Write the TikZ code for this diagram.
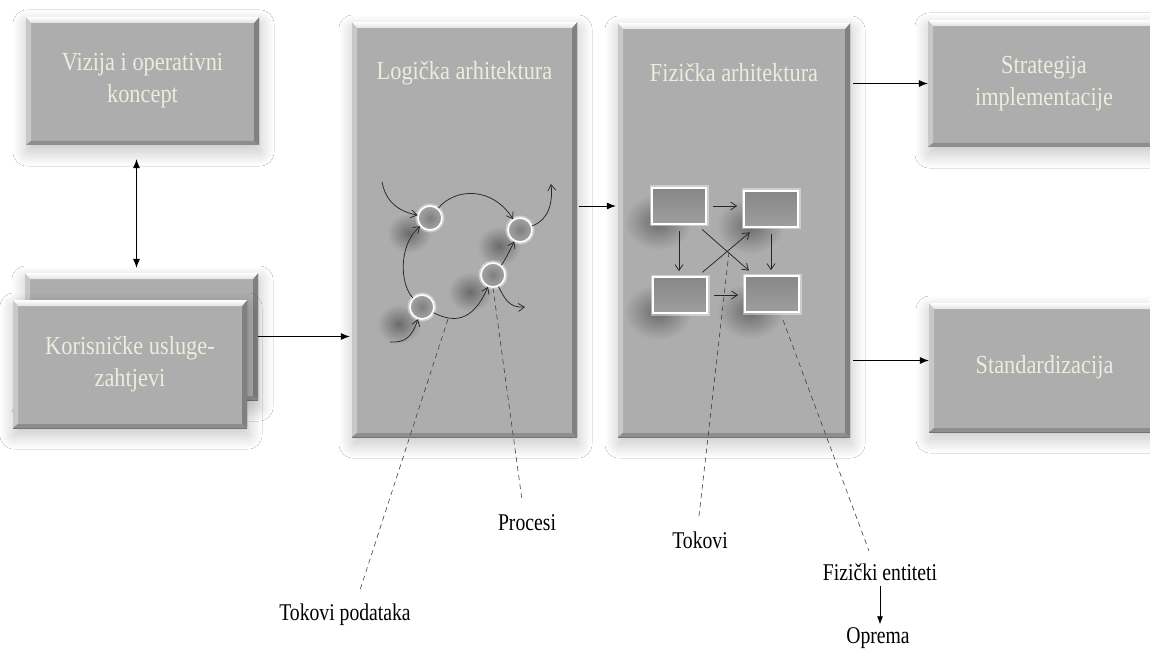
\documentclass[tikz,border=0pt]{standalone}
\usepackage{fontspec}
\setmainfont{Liberation Serif}
\newfontfamily\boxfont[FakeStretch=0.86]{Liberation Serif}
\newfontfamily\notefont[FakeStretch=0.82]{Liberation Serif}
\usetikzlibrary{arrows.meta,shadows.blur,calc}
\definecolor{boxgray}{HTML}{ADADAD}
\definecolor{boxtext}{HTML}{E9EEDD}
\definecolor{bevleft}{HTML}{C8C8C8}
\definecolor{bevright}{HTML}{808080}
\definecolor{bevbottom}{HTML}{8E8E8E}
\tikzset{
  bevel/.style={path picture={
    \coordinate (q1) at (path picture bounding box.north west);
    \coordinate (q2) at (path picture bounding box.north east);
    \coordinate (q3) at (path picture bounding box.south east);
    \coordinate (q4) at (path picture bounding box.south west);
    \fill[bevleft] (q1) -- ([xshift=5pt,yshift=-6pt]q1) -- ([xshift=5pt,yshift=4pt]q4) -- (q4) -- cycle;
    \fill[bevright] (q2) -- ([xshift=-5pt,yshift=-6pt]q2) -- ([xshift=-5pt,yshift=4pt]q3) -- (q3) -- cycle;
    \fill[bevbottom] (q4) -- ([xshift=5pt,yshift=4pt]q4) -- ([xshift=-5pt,yshift=4pt]q3) -- (q3) -- cycle;
    \shade[top color=white, bottom color=black!12] (q1) -- (q2) -- ([xshift=-5pt,yshift=-6pt]q2) -- ([xshift=5pt,yshift=-6pt]q1) -- cycle;
    \draw[black!55, line width=0.9pt] (q2) -- (q3) -- (q4);
  }},
  panel/.style={rectangle, inner sep=0pt, fill=boxgray, text=boxtext, align=center,
    font=\boxfont\fontsize{26}{32}\selectfont,
    blur shadow={shadow xshift=1pt, shadow yshift=-7pt, shadow blur radius=14pt, shadow opacity=24, shadow blur steps=30},
    bevel},
  paneltext/.style={text=boxtext, inner sep=0pt, font=\boxfont\fontsize{26}{32}\selectfont},
  blob/.style={inner color=black!58, outer color=boxgray},
  proc/.style={circle, minimum size=24pt, inner sep=0pt, draw=white, line width=1.6pt,
    inner color=black!50, outer color=black!36,
    preaction={draw=white, line width=5pt, opacity=0.4}},
  ent/.style={rectangle, minimum width=54pt, minimum height=36pt, inner sep=0pt, draw=white, line width=1.6pt,
    top color=black!47, bottom color=black!38,
    preaction={draw=white, line width=5pt, opacity=0.4}},
  mainarrow/.style={-{Latex[length=9pt,width=7pt]}, line width=0.8pt, black},
  flow/.style={-{Straight Barb[length=6pt,width=8pt]}, line width=0.75pt, black!85},
  leader/.style={dash pattern=on 5pt off 4pt, line width=0.6pt, black!75},
  note/.style={font=\notefont\fontsize{24}{28}\selectfont, text=black, inner sep=1pt}
}
\begin{document}
\begin{tikzpicture}[x=1pt,y=-1pt]
\fill[white] (0,0) rectangle (1150,652);
\useasboundingbox (0,0) rectangle (1150,652);

% main panels
\node[panel, minimum width=233pt, minimum height=128pt] (viz) at (142.5,81) {Vizija i operativni\\koncept};
\node[panel, minimum width=233pt, minimum height=127pt] (korb) at (141.5,336.5) {};
\node[panel, minimum width=234pt, minimum height=128pt] (korf) at (130,364) {Korisničke usluge-\\zahtjevi};
\node[panel, minimum width=225pt, minimum height=415pt] (log) at (464.5,229.5) {};
\node[paneltext] (logt) at (464.5,73) {Logička arhitektura};
\node[panel, minimum width=232pt, minimum height=414pt] (fiz) at (734,230) {};
\node[paneltext] (fizt) at (734,73) {Fizička arhitektura};
\node[panel, minimum width=232pt, minimum height=127pt] (str) at (1044,83.5) {Strategija\\implementacije};
\node[panel, minimum width=231pt, minimum height=129pt] (std) at (1044.5,367.5) {Standardizacija};

% main connectors
\draw[{Latex[length=9pt,width=7pt]}-{Latex[length=9pt,width=7pt]}, line width=0.8pt, shorten <=14pt, shorten >=5pt]
  ([xshift=-6pt]viz.south) -- ([xshift=-6pt]viz.south |- korb.north);
\draw[mainarrow, shorten >=2pt] (korb.east) -- (korb.east -| log.west);
\draw[mainarrow, shorten <=2pt, shorten >=2pt] ([yshift=23.5pt]log.east) -- ([yshift=23.5pt]log.east -| fiz.west);
\draw[mainarrow, shorten <=3pt] (fiz.east |- str.west) -- (str.west);
\draw[mainarrow, shorten <=3pt] ([yshift=7pt]std.west -| fiz.east) -- ([yshift=7pt]std.west);

% soft shadows of the inner shapes
\shade[blob] (409,233) ellipse (22pt and 20pt);
\shade[blob] (499,246) ellipse (22pt and 20pt);
\shade[blob] (470,292) ellipse (22pt and 20pt);
\shade[blob] (399,324) ellipse (22pt and 20pt);
\shade[blob] (658,222) ellipse (34pt and 28pt);
\shade[blob] (750,226) ellipse (34pt and 28pt);
\shade[blob] (658,312) ellipse (34pt and 28pt);
\shade[blob] (750,311) ellipse (34pt and 28pt);

% logical architecture: processes
\node[proc] (c1) at (430,218) {};
\node[proc] (c2) at (520,230) {};
\node[proc] (c3) at (493,275) {};
\node[proc] (c4) at (422,307) {};
\coordinate (a1) at (382,182);
\coordinate (a2) at (551,184);
\coordinate (a3) at (525,307);
\coordinate (a4) at (390,342);
\draw[flow] (a1) .. controls (386,202) and (398,211) .. (c1);
\draw[flow] (c1) .. controls (455,188) and (492,186) .. (c2);
\draw[flow] (c2) .. controls (549,220) and (553,202) .. (a2);
\draw[flow] (c3) .. controls (504,262) and (509,252) .. (c2);
\draw[flow] (c3) .. controls (505,300) and (510,308) .. (a3);
\draw[flow] (c4) .. controls (452,322) and (472,324) .. (c3);
\draw[flow] (c4) .. controls (400,285) and (398,245) .. (c1);
\draw[flow] (a4) .. controls (405,343) and (412,337) .. (c4);

% physical architecture: entities
\node[ent] (r1) at (679,206) {};
\node[ent] (r2) at (771,209) {};
\node[ent] (r3) at (680,295) {};
\node[ent] (r4) at (772,294) {};
\draw[flow, shorten <=6pt, shorten >=6pt] (r1.east) -- (r1.east -| r2.west);
\draw[flow, shorten <=6pt, shorten >=6pt] (r3.east) -- (r3.east -| r4.west);
\draw[flow, shorten <=6pt, shorten >=5pt] (r1.south) -- (r1.south |- r3.north);
\draw[flow, shorten <=6pt, shorten >=5pt] (r2.south) -- (r2.south |- r4.north);
\draw[flow, shorten <=7pt, shorten >=7pt] ([xshift=-10pt]r1.south east) -- ([xshift=10pt]r4.north west);
\draw[flow, shorten <=6pt, shorten >=7pt] ([xshift=-10pt]r3.north east) -- ([xshift=12pt]r2.south west);

% labels below
\node[note] (tp) at (345,615) {Tokovi podataka};
\node[note] (pr) at (527,523) {Procesi};
\node[note] (tk) at (700,540) {Tokovi};
\node[note] (fe) at (880,572) {Fizički entiteti};
\node[note] (op) at (878,638) {Oprema};
\draw[mainarrow, -{Latex[length=8pt,width=6pt]}, shorten <=4pt, shorten >=2pt] (fe.south) -- (fe.south |- op.north);

% leader lines
\coordinate (s1) at (448,319);
\coordinate (s3) at (729,252);
\coordinate (s4) at (783,320);
\coordinate (e1) at (360,590);
\coordinate (e2) at (522,500);
\coordinate (e3) at (699,516);
\coordinate (e4) at (869,551);
\draw[leader] (s1) -- (e1);
\draw[leader] (c3.south) -- (e2);
\draw[leader] (s3) -- (e3);
\draw[leader] (s4) -- (e4);
\end{tikzpicture}
\end{document}
